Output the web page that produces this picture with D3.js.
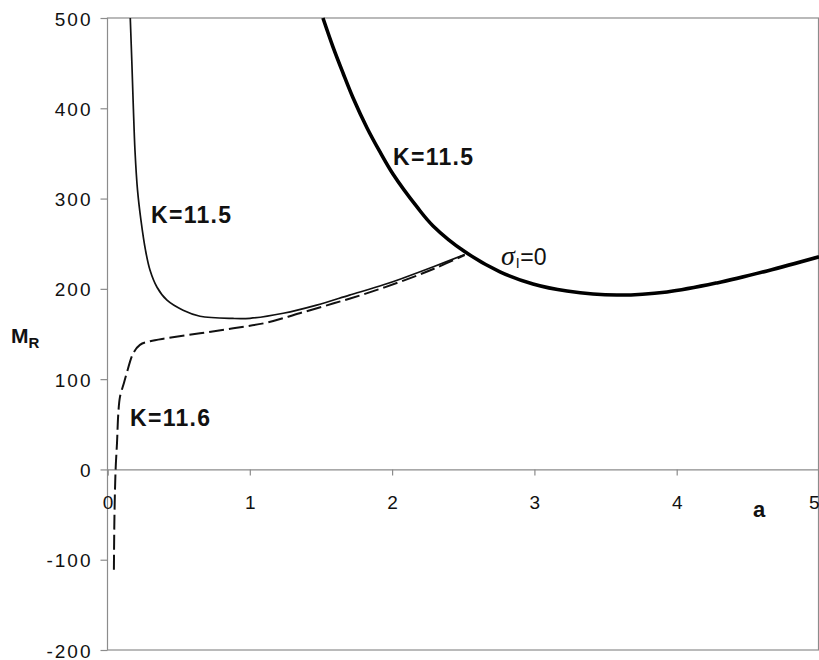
<!DOCTYPE html>
<html>
<head>
<meta charset="utf-8">
<script src="https://cdn.jsdelivr.net/npm/d3@7"></script>
<style>
  html, body { margin: 0; padding: 0; background: #fff; }
  svg { display: block; }
  .k-label { font-family: "Liberation Sans", Arial, sans-serif; font-size: 23px; font-weight: bold; fill: #111; letter-spacing: 1.3px; }
</style>
</head>
<body>
<svg id="chart" width="819" height="660"></svg>
<script>
// Axis ticks
const xTicks = [0, 1, 2, 3, 4, 5];
const yTicks = [-200, -100, 0, 100, 200, 300, 400, 500];

// K = 11.5, thin branch (a, M_R)
const thinA = [0.160, 0.172, 0.182, 0.193, 0.211, 0.235, 0.267, 0.299, 0.348, 0.418, 0.531, 0.650, 0.882, 1.001, 1.235, 1.470, 1.700, 1.940, 2.060, 2.290, 2.510];
const thinM = [500, 446.8, 399.2, 353.6, 309.3, 276.1, 242.8, 220.6, 201.8, 187.4, 176.3, 169.7, 167.2, 167.4, 173, 182, 193, 204.5, 211, 224.5, 238];

// K = 11.6, dashed branch (a, M_R)
const dashA = [0.045, 0.049, 0.057, 0.067, 0.076, 0.088, 0.116, 0.135, 0.181, 0.228, 0.300, 0.416, 0.650, 0.884, 1.120, 1.350, 1.590, 1.820, 2.060, 2.290, 2.510];
const dashM = [-111, -50, 0, 30, 62, 80.6, 96, 106.5, 128.7, 138, 142, 145.3, 150.8, 156.4, 162.6, 173, 184, 195, 208, 222, 237.5];

// K = 11.5, thick curve sigma_I = 0 (a, M_R)
const thickA = [1.514, 1.585, 1.655, 1.726, 1.824, 1.915, 2.006, 2.175, 2.288, 2.512, 2.758, 2.990, 3.229, 3.580, 3.932, 4.283, 4.635, 5.000];
const thickM = [500, 467.8, 439.1, 411.4, 378.2, 351.6, 327.2, 290.7, 269.7, 241.0, 218.9, 205.4, 197.7, 193.2, 196.6, 206.6, 219.9, 235.5];

const svg = d3.select("#chart");
const plotLeft = 107.5, plotRight = 819, plotTop = 18, plotBottom = 650;

const x = d3.scaleLinear().domain([0, 5]).range([plotLeft, plotRight]);
const y = d3.scaleLinear().domain([-200, 500]).range([plotBottom, plotTop]);

const gray = "#8c8c8c";
const tickFont = "'Liberation Sans', Arial, sans-serif";

// Plot frame
svg.append("rect")
  .attr("x", plotLeft).attr("y", plotTop)
  .attr("width", 818.5 - plotLeft).attr("height", plotBottom - plotTop)
  .attr("fill", "none").attr("stroke", gray).attr("stroke-width", 1.2);

// Horizontal axis along M_R = 0
const xAxis = d3.axisBottom(x).tickValues(xTicks).tickSize(6).tickFormat(d => String(d));
const gx = svg.append("g").attr("transform", `translate(0,${y(0)})`).call(xAxis);
gx.select(".domain").attr("stroke", gray).attr("stroke-width", 1.2);
gx.selectAll(".tick line").attr("stroke", gray).attr("stroke-width", 1.2);
gx.selectAll(".tick text")
  .style("font-family", tickFont).style("font-size", "19px").attr("fill", "#111")
  .attr("y", 39.5).attr("dy", null)
  .attr("text-anchor", d => d === 5 ? "end" : "middle");

// Vertical axis
const yAxis = d3.axisLeft(y).tickValues(yTicks).tickSize(7).tickFormat(d => String(d));
const gy = svg.append("g").attr("transform", `translate(${plotLeft},0)`).call(yAxis);
gy.select(".domain").remove();
gy.selectAll(".tick line").attr("stroke", gray).attr("stroke-width", 1.2);
gy.selectAll(".tick text")
  .style("font-family", tickFont).style("font-size", "19px").attr("fill", "#111")
  .attr("x", -15).attr("dy", null).attr("y", 7)
  .style("letter-spacing", "2px");

// Clip to plot area
svg.append("clipPath").attr("id", "plot-clip")
  .append("rect").attr("x", plotLeft).attr("y", plotTop - 2)
  .attr("width", plotRight - plotLeft + 2).attr("height", plotBottom - plotTop + 2);

const line = d3.line().x(d => x(d[0])).y(d => y(d[1])).curve(d3.curveCatmullRom.alpha(0.5));
const plot = svg.append("g").attr("clip-path", "url(#plot-clip)");

plot.append("path")
  .datum(dashA.map((a, i) => [a, dashM[i]]))
  .attr("d", line).attr("fill", "none")
  .attr("stroke", "#111").attr("stroke-width", 2)
  .attr("stroke-dasharray", "15,5");

plot.append("path")
  .datum(thinA.map((a, i) => [a, thinM[i]]))
  .attr("d", line).attr("fill", "none")
  .attr("stroke", "#111").attr("stroke-width", 1.7);

plot.append("path")
  .datum(thickA.map((a, i) => [a, thickM[i]]))
  .attr("d", line).attr("fill", "none")
  .attr("stroke", "#000").attr("stroke-width", 3.6);

// Curve labels
svg.append("text").attr("class", "k-label").attr("x", 151).attr("y", 223).text("K=11.5");
svg.append("text").attr("class", "k-label").attr("x", 393).attr("y", 165).text("K=11.5");
svg.append("text").attr("class", "k-label").attr("x", 130).attr("y", 426).text("K=11.6");

// sigma_I = 0
const sig = svg.append("text").attr("x", 501).attr("y", 265)
  .attr("font-family", "'Liberation Sans', Arial, sans-serif").attr("font-size", 23).attr("fill", "#111");
sig.append("tspan").attr("font-family", "'Liberation Serif', 'Times New Roman', serif")
  .attr("font-style", "italic").attr("font-size", 28).text("σ");
sig.append("tspan").attr("font-size", 14).attr("dy", 3).attr("dx", 1).text("I");
sig.append("tspan").attr("dy", -3).attr("dx", 0.5).text("=0");

// Axis titles
svg.append("text").attr("x", 753).attr("y", 517)
  .attr("font-family", "'Liberation Sans', Arial, sans-serif").attr("font-weight", "bold")
  .attr("font-size", 22).attr("fill", "#111").text("a");

const mr = svg.append("text").attr("x", 11).attr("y", 343)
  .attr("font-family", "'Liberation Sans', Arial, sans-serif").attr("font-weight", "bold")
  .attr("font-size", 21).attr("fill", "#111");
mr.append("tspan").text("M");
mr.append("tspan").attr("font-size", 15).attr("dy", 5).text("R");
</script>
</body>
</html>
